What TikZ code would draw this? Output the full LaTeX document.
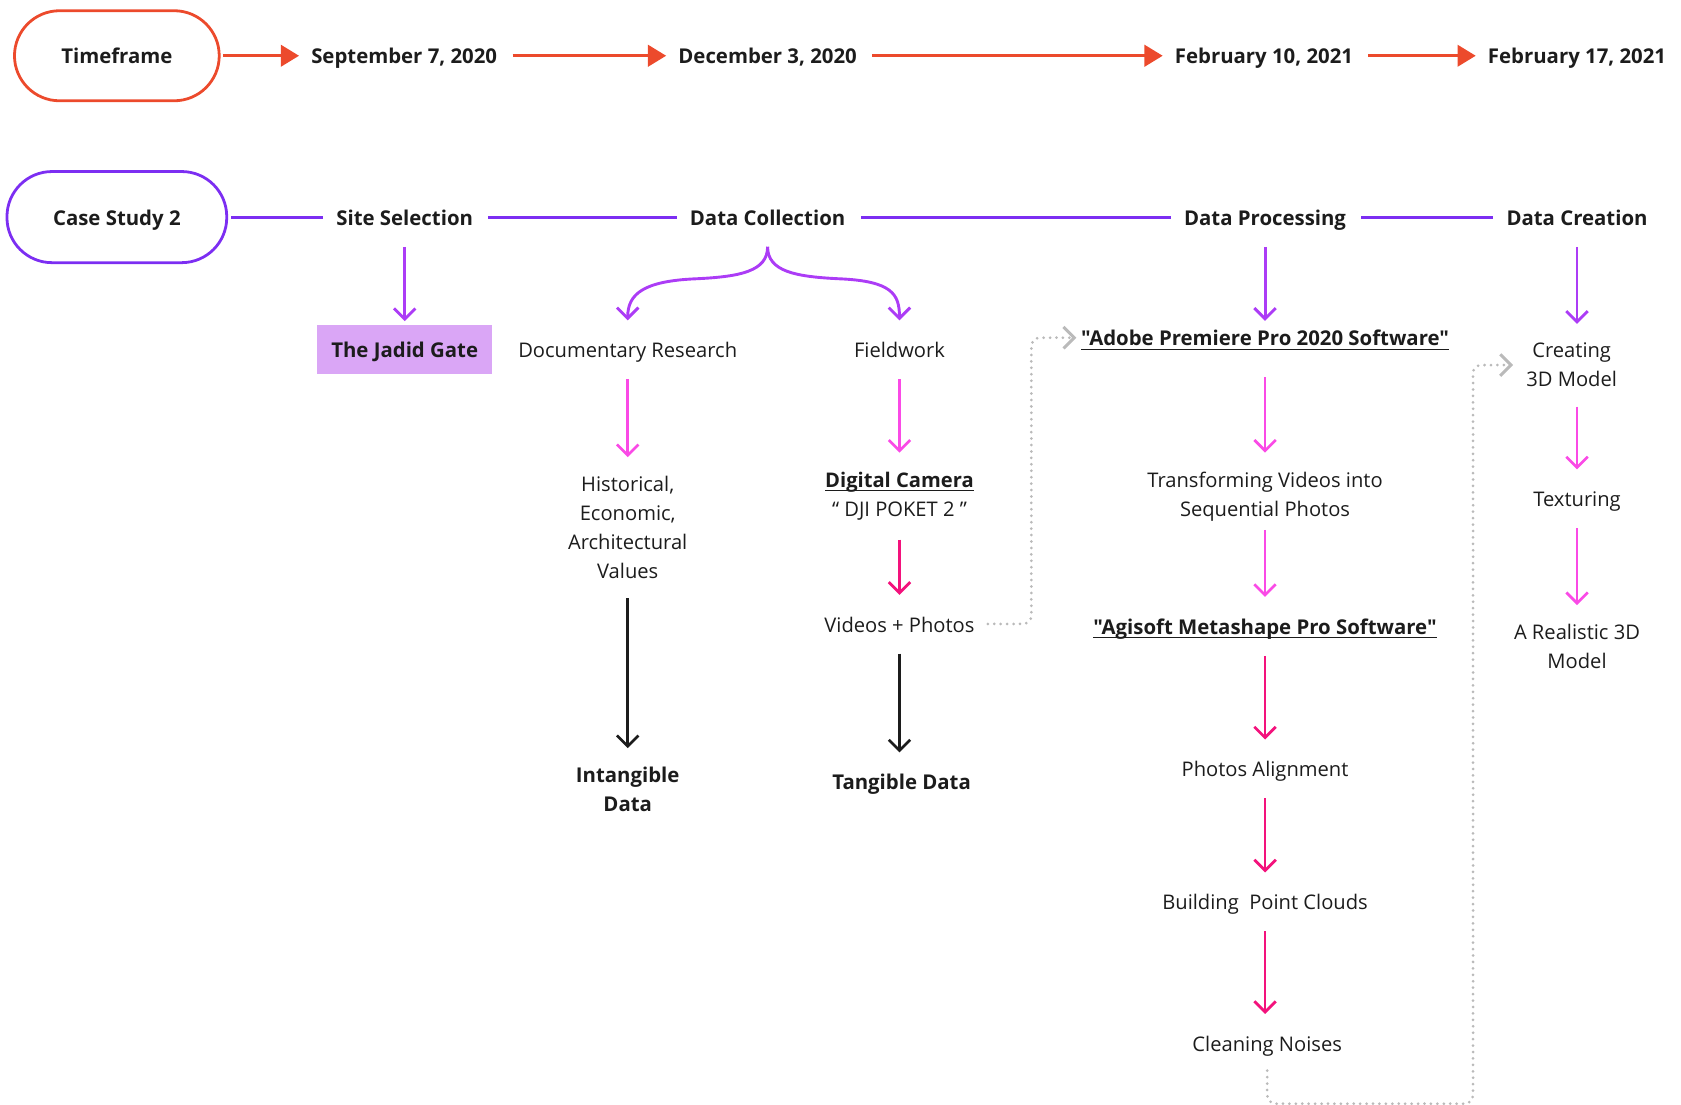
\documentclass[tikz,border=0pt]{standalone}
\usepackage{fontspec}
\setmainfont{Open Sans}[Ligatures=TeXReset]
\usepackage{tikz}
\usetikzlibrary{arrows.meta}
\definecolor{tfred}{RGB}{236,74,44}
\definecolor{csviolet}{RGB}{124,46,242}
\definecolor{hdpurple}{RGB}{172,60,246}
\definecolor{lpink}{RGB}{250,74,230}
\definecolor{dpink}{RGB}{243,18,124}
\definecolor{gatefill}{RGB}{218,166,246}
\definecolor{ink}{RGB}{28,28,28}
\definecolor{dotgray}{RGB}{186,186,186}
\newcommand{\uln}[1]{\setbox0\hbox{#1}\rlap{\rule[-2pt]{\wd0}{0.7pt}}\box0}

\begin{document}
\begin{tikzpicture}[x=0.5pt,y=-0.5pt,
  every node/.style={inner sep=0pt,text=ink,font=\fontsize{9.4}{13.5}\selectfont},
  lbl/.style={text height=8.4pt,text depth=0.9pt},
  multi/.style={align=center},
  boldtext/.style={font=\fontsize{9.5}{13.5}\selectfont\bfseries},
  hd/.style={lbl,boldtext},
  pill/.style={hd,line width=1.3pt,rounded corners=21pt,minimum height=42pt},
  tline/.style={tfred,line width=1.3pt,shorten <=7pt,shorten >=5.5pt},
  tarr/.style={tline,-{Triangle[length=8.5pt,width=10pt]}},
  cline/.style={csviolet,line width=1.4pt,shorten <=7pt,shorten >=6pt},
  harr/.style={hdpurple,line width=1.35pt,-{Straight Barb[length=5pt,width=10pt]},
    shorten <=9pt,shorten >=8.75pt},
  larr/.style={harr,lpink,line width=1.25pt},
  darr/.style={harr,dpink,line width=1.3pt},
  karr/.style={harr,ink,line width=1.25pt},
  dotl/.style={dotgray,line width=1.4pt,line cap=round,dash pattern=on 0pt off 3pt,
    rounded corners=4pt,-{Straight Barb[length=5pt,width=10pt]}}]
\useasboundingbox (0,0) rectangle (1568,1030);

\node[pill,draw=tfred,minimum width=95.5pt] (tf) at (109,52) {Timeframe};
\node[hd] (d1) at (377,52) {September 7, 2020};
\node[hd] (d2) at (716,52) {December 3, 2020};
\node[hd] (d3) at (1179,52) {February 10, 2021};
\node[hd] (d4) at (1471,52) {February 17, 2021};

\node[pill,draw=csviolet,minimum width=102.5pt,minimum height=42.5pt] (cs) at (109,202.5) {Case Study 2};
\node[hd] (s1) at (377.5,202.5) {Site Selection};
\node[hd] (s2) at (716,202.5) {Data Collection};
\node[hd] (s3) at (1180,202.5) {Data Processing};
\node[hd] (s4) at (1471,202.5) {Data Creation};

\node[hd,fill=gatefill,minimum width=81.5pt,minimum height=23pt] (jg) at (377.5,326) {The Jadid Gate};
\node[lbl] (dr) at (585.5,326) {Documentary Research};
\node[lbl] (fw) at (839,326) {Fieldwork};
\node[hd] (ad) at (1180,315) {\uln{"Adobe Premiere Pro 2020 Software"}};
\node[multi] (cr) at (1466,340.5) {Creating\\3D Model};

\node[multi] (hv) at (585.5,492) {Historical,\\Economic,\\Architectural\\Values};
\node[multi] (dcam) at (839,462.5) {\textbf{\uln{Digital Camera}}\\“ DJI POKET 2 ”};
\node[multi] (tv) at (1180,463) {Transforming Videos into\\Sequential Photos};
\node[lbl] (tx) at (1471,465) {Texturing};

\node[lbl] (vp) at (839,582) {Videos + Photos};
\node[hd] (ag) at (1180,584) {\uln{"Agisoft Metashape Pro Software"}};
\node[multi] (rm) at (1471,603) {A Realistic 3D\\Model};

\node[multi,boldtext] (id) at (585.5,736.5) {Intangible\\Data};
\node[hd] (td) at (841,729) {Tangible Data};
\node[lbl] (pa) at (1180,717) {Photos Alignment};
\node[lbl] (bp) at (1180,841) {Building\ \ Point Clouds};
\node[lbl] (cn) at (1182,973) {Cleaning Noises};

\draw[tarr,shorten <=1pt] (tf) -- (d1);
\draw[tarr] (d1) -- (d2);
\draw[tarr] (d2) -- (d3);
\draw[tarr] (d3) -- (d4);

\draw[cline,shorten <=1.5pt] (cs) -- (s1);
\draw[cline] (s1) -- (s2);
\draw[cline] (s2) -- (s3);
\draw[cline] (s3) -- (s4);

\draw[harr,shorten >=1.5pt] (s1) -- (jg);
\draw[harr] (s2.south) .. controls +(0,41) and +(40,-2) .. (650,260)
  .. controls +(-50,2) and +(0,-42) .. (dr.north);
\draw[harr] (s2.south) .. controls +(0,41) and +(-40,-2) .. (782,260)
  .. controls +(50,2) and +(0,-42) .. (fw.north);
\draw[harr,shorten >=3pt] (s3) -- (ad);
\draw[harr] (s4) -- (s4 |- cr.north);

\draw[larr] (dr) -- (hv);
\draw[larr] (fw) -- (dcam);
\draw[larr,shorten <=13.5pt] (ad) -- (tv);
\draw[larr] (s4 |- cr.south) -- (tx);
\draw[darr] (dcam) -- (vp);
\draw[larr,shorten <=4pt] (tv) -- (ag);
\draw[larr] (tx) -- (rm);
\draw[karr] (hv) -- (id);
\draw[karr] (vp) -- (vp |- td.north);
\draw[darr] (ag) -- (pa);
\draw[darr] (pa) -- (bp);
\draw[darr] (bp) -- (bp |- cn.north);

\draw[dotl,shorten <=6pt,shorten >=2pt] (vp.east) -| (962,315) -- (ad.west);
\draw[dotl,shorten <=8pt,shorten >=6pt] (cn.south) |- (1374,1029.5) |- (cr.west);
\end{tikzpicture}
\end{document}
